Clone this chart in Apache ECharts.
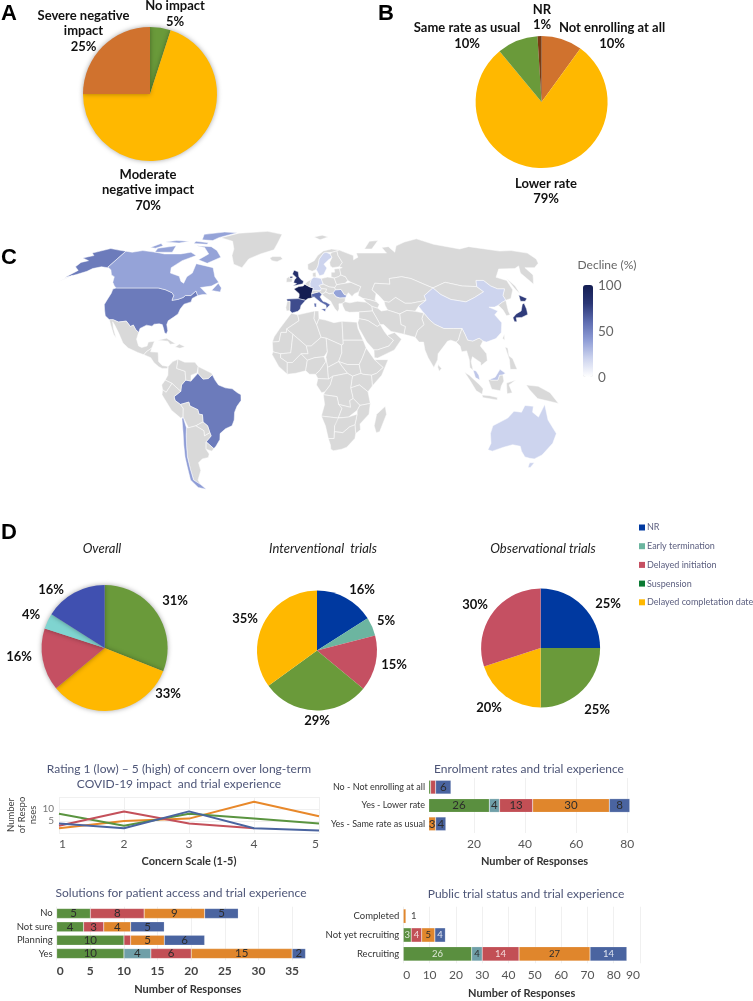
<!DOCTYPE html>
<html><head><meta charset="utf-8">
<script src="https://cdn.jsdelivr.net/npm/echarts@6/dist/echarts.min.js"></script>
<style>html,body{margin:0;padding:0;background:#fff}#c{width:753px;height:1001px}</style>
</head><body><div id="c"></div>
<script>
// ---------- DATA ----------
const pieANames = ['No impact', 'Moderate\nnegative impact', 'Severe negative\nimpact'];
const pieAValues = [5, 70, 25];
const pieBNames = ['Not enrolling at all', 'Lower rate', 'Same rate as usual', 'NR'];
const pieBValues = [10, 79, 10, 1];

const overallNames = ['Suspension', 'Delayed completation date', 'Delayed initiation', 'Early termination', 'NR'];
const overallValues = [31, 33, 16, 4, 16];
const interventionalNames = ['NR', 'Early termination', 'Delayed initiation', 'Suspension', 'Delayed completation date'];
const interventionalValues = [16, 5, 15, 29, 35];
const observationalNames = ['NR', 'Suspension', 'Delayed completation date', 'Delayed initiation'];
const observationalValues = [25, 25, 20, 30];

const declineCountries = ['USA','Canada','Brazil','UK','France','Spain','Italy','Germany','Sweden','Romania','China','Japan','Australia','Chile','Malaysia'];
const declineValues = [54, 38, 54, 85, 100, 72, 62, 20, 20, 38, 20, 78, 20, 40, 25];

const concernTicks = ['1','2','3','4','5'];
const concernOrange = [2, 5, 6, 13, 7];
const concernGreen = [8, 3, 8, 6, 4];
const concernRed = [3, 9, 4, 2, null];
const concernBlue = [4, 2, 9, 2, 1];

const enrolCats = ['No - Not enrolling at all', 'Yes - Lower rate', 'Yes - Same rate as usual'];
const enrolSuspension = [3, 26, 2];
const enrolEarly = [0, 4, 0];
const enrolInitiation = [2, 13, 0];
const enrolCompletion = [0, 30, 3];
const enrolNR = [6, 8, 4];
const enrolTicks = [20, 40, 60, 80];

const solCats = ['No', 'Not sure', 'Planning', 'Yes'];
const solSuspension = [5, 4, 10, 10];
const solEarly = [0, 0, 0, 4];
const solInitiation = [8, 3, 1, 6];
const solCompletion = [9, 4, 5, 15];
const solNR = [5, 5, 6, 2];
const solTicks = [0, 5, 10, 15, 20, 25, 30, 35];

const pubCats = ['Completed', 'Not yet recruiting', 'Recruiting'];
const pubSuspension = [0, 3, 26];
const pubEarly = [0, 0, 4];
const pubInitiation = [0, 4, 14];
const pubCompletion = [1, 5, 27];
const pubNR = [0, 4, 14];

// Coarse base map outlines (lon, lat)
const landShapes = {
 USA:[[[-124.7,48.4],[-123,49],[-95,49],[-89.5,48],[-84.5,46.5],[-82.5,45],[-82.5,42.5],[-79,43],[-76,44],[-75,45],[-71.5,45],[-69.2,47.4],[-67,45],[-70,43.5],[-70,41.7],[-74,40.5],[-75.5,38],[-76,35.5],[-78,34],[-81,32],[-81.3,30],[-80,26.8],[-80.5,25.2],[-81.8,26],[-82.8,28],[-84,30],[-86,30.4],[-89,30.2],[-90,29.2],[-93.5,29.7],[-97,28],[-97.3,26],[-99.5,27.5],[-101.5,29.8],[-103,29],[-106.5,31.8],[-111,31.3],[-114.8,32.5],[-117.1,32.5],[-120.5,34.5],[-122.5,37.5],[-124.3,40.3],[-124.2,43],[-124,46.2]],
  [[-141,69.6],[-141,60.3],[-137,58.9],[-133,56],[-130,55],[-134,58],[-139,59.8],[-146,60.5],[-151,59.5],[-153,58],[-158,56.2],[-164,54.6],[-160,58.5],[-165,60.5],[-165,63],[-161,64],[-168,65.6],[-162,67],[-166,68.5],[-156.5,71.3],[-148,70.3]],
  [[-160,55.6],[-166,52.2],[-162,54.4]]],
 Canada:[[[-123,49],[-95,49],[-89.5,48],[-84.5,46.5],[-82.5,45],[-82.5,42.5],[-79,43],[-76,44],[-75,45],[-71.5,45],[-69.2,47.4],[-67,45],[-64,45.5],[-61,45.5],[-65,48],[-67,49.2],[-60,50],[-56,52],[-60,55],[-64,60],[-70,61],[-78,62.3],[-77,57],[-79.5,55],[-79.5,51.5],[-82,52.5],[-85,55.3],[-92.5,57],[-94.5,60],[-90,64],[-82,67],[-88,69],[-95,68],[-108,68],[-116,69],[-128,70],[-135,69],[-141,69.6],[-141,60.3],[-137,58.9],[-133,56],[-130,55],[-128,52],[-125,50]],
  [[-62,66],[-70,62.5],[-78,64.5],[-73,68],[-80,72],[-88,73],[-75,72.5],[-68,70]],
  [[-62,82.5],[-75,83],[-92,81],[-88,77],[-78,76.5],[-75,78.5]],
  [[-105,73],[-118,71.5],[-117,69],[-103,69]],
  [[-125,72],[-120,74.5],[-116,73],[-120,71.5]],
  [[-80,75],[-92,76],[-92,74.5],[-80,74]],
  [[-98,76],[-110,76.5],[-118,75.5],[-105,74.8]],
  [[-59,47.7],[-53,46.8],[-53,49],[-56,51.5]]],
 Greenland:[[[-73,78.5],[-60,82],[-33,83.6],[-18,81],[-20,75],[-22,70.5],[-32,68],[-40,65],[-43,60],[-50,62],[-54,67],[-55,71],[-60,76]]],
 Iceland:[[[-24,65.5],[-22,64],[-18,63.4],[-14,65],[-16,66.4],[-22,66.4]]],
 Mexico:[[[-117.1,32.5],[-114.8,32.5],[-111,31.3],[-106.5,31.8],[-103,29],[-101.5,29.8],[-99.5,27.5],[-97.3,26],[-97.8,22.5],[-96,19],[-94,18.2],[-91,19],[-90.5,21],[-87,21.5],[-88,18],[-91,16],[-92.2,14.5],[-96,15.7],[-102,18],[-105.5,20.5],[-109,25.5],[-112.5,29.5],[-114.7,31.5],[-113,28],[-110,23],[-112,25],[-115,29.5]]],
 CentralAmerica:[[[-92.2,14.5],[-91,16],[-88,18],[-88.5,16],[-84,15.8],[-83.3,11],[-81,9],[-77.5,8.5],[-78,7.5],[-81,7.5],[-83,8.3],[-86,10.5],[-88,13]]],
 Cuba:[[[-85,22],[-80,23],[-74.3,20.2],[-77.5,19.9],[-79,21.5]]],
 Hispaniola:[[[-74.3,18.5],[-72,20],[-68.5,18.6],[-71.5,17.8]]],
 Brazil:[[[-51.6,4.2],[-50,1.5],[-48,-1],[-44,-2.5],[-40,-3],[-37,-5],[-35,-6],[-35,-9],[-37.5,-12],[-39,-15],[-39.5,-19],[-41,-22],[-45,-23.5],[-48.5,-26],[-49,-29],[-52,-32.5],[-53.5,-33.7],[-57.5,-30.2],[-54,-27.2],[-54.5,-25.5],[-55.5,-22],[-58,-20],[-58,-16.3],[-60,-16],[-60.5,-13.7],[-65,-11.8],[-65.5,-9.8],[-70.5,-11],[-73.5,-9],[-74,-7],[-70,-4.3],[-69.5,-1],[-67,1.5],[-64,1],[-60,5],[-57,2],[-54,2.3]]],
 Colombia:[[[-77.5,8.5],[-75,11],[-72,12.2],[-72.5,7.5],[-67.5,6],[-67,1.5],[-69.5,-1],[-70,-4.3],[-75,-0.2],[-79,1.5],[-77.5,4]]],
 Venezuela:[[[-72,12.2],[-68,10.7],[-62,10.7],[-60,8.5],[-60.5,5.2],[-64,4],[-64,1],[-67,1.5],[-67.5,6],[-72.5,7.5]]],
 Guianas:[[[-60,8.5],[-52,5],[-51.6,4.2],[-54,2.3],[-57,2],[-60,5]]],
 Ecuador:[[[-79,1.5],[-75,-0.2],[-78.5,-4.8],[-80.5,-3.5],[-81,-1]]],
 Peru:[[[-75,-0.2],[-70,-4.3],[-74,-7],[-73.5,-9],[-70.5,-11],[-69,-13],[-69.5,-17.5],[-71,-18],[-76,-14],[-81,-6],[-80.5,-3.5],[-78.5,-4.8]]],
 Bolivia:[[[-69,-13],[-70.5,-11],[-65.5,-9.8],[-65,-11.8],[-60.5,-13.7],[-60,-16],[-58,-16.3],[-58,-20],[-62.5,-22],[-67,-23],[-69.5,-17.5]]],
 Paraguay:[[[-62.5,-22],[-58,-20],[-55.5,-22],[-54.5,-25.5],[-58,-27.2],[-58,-24.5]]],
 Argentina:[[[-67,-23],[-62.5,-22],[-58,-24.5],[-58,-27.2],[-54.5,-25.5],[-54,-27.2],[-57.5,-30.2],[-58.3,-34],[-57,-36.5],[-58,-38.3],[-62,-39],[-65,-41],[-65,-45],[-69,-50],[-68.5,-52.5],[-72,-50],[-71.5,-44],[-71,-38],[-70,-33],[-69,-27],[-68.2,-23]]],
 Chile:[[[-69.5,-17.5],[-68.2,-23],[-69,-27],[-70,-33],[-71,-38],[-71.5,-44],[-72,-50],[-68.5,-52.5],[-66,-55],[-71,-54],[-74,-50],[-73,-43],[-72.5,-38],[-71.5,-32],[-70.5,-25],[-70.3,-18.5]]],
 Uruguay:[[[-57.5,-30.2],[-53.5,-33.7],[-55,-35],[-58.3,-34]]],
 UK:[[[-5.5,50],[1.3,51.2],[1.7,52.7],[0,53.5],[-1.5,55],[-2,57.7],[-5,58.6],[-6,56.5],[-3.2,54.5],[-4.5,53.3],[-5,51.7],[-3,51.3]],[[-8,54.2],[-5.6,54.4],[-6.2,55.2],[-7.5,55.1]]],
 Ireland:[[[-10,52],[-6.2,52.2],[-6,54],[-8,54.2],[-8,55.3],[-10,54]]],
 France:[[[-1.8,43.4],[3,42.5],[4.5,43.4],[7.5,43.8],[7,46],[8.2,49],[6,49.5],[2.5,51],[1.5,50],[-1.5,49.7],[-4.7,48.5],[-1.2,46],[-1.2,44.5]]],
 Spain:[[[-9.2,43.2],[-1.8,43.4],[3,42.5],[0,39.8],[-0.5,38],[-2,36.8],[-5.5,36],[-7,37.2],[-7,42],[-8.8,42]]],
 Portugal:[[[-8.8,42],[-7,42],[-7,37.2],[-9,37],[-9.5,38.8]]],
 Italy:[[[7,44],[7,46],[12,47],[13.7,45.7],[12.3,44.3],[14,42],[16,41.5],[18.5,40.2],[16.8,39],[16,38],[15.7,40],[12.5,41.5],[10.3,43],[8.5,44.3]],[[12.5,38],[15.6,38.2],[15,36.7]],[[8.2,41],[9.7,41],[9.6,39],[8.5,39]]],
 Germany:[[[6,49.5],[6,51.5],[7,53.5],[9,54.8],[14,54],[15,51],[12.2,50.3],[13.5,48.7],[13,47.5],[7.7,47.6],[8.2,49]]],
 Benelux:[[[2.5,51],[6,49.5],[6,51.5],[7,53.5],[4.5,52.5]]],
 Denmark:[[[8.2,55],[10.5,54.9],[10.5,57.5],[8.2,57]]],
 Alps:[[[7,46],[7.7,47.6],[13,47.5],[13.5,48.7],[17,48.5],[16.2,46.8],[13.7,45.7],[12,47]]],
 Poland:[[[14,54],[18.5,54.8],[23,54.3],[24,50.7],[22.5,49.2],[19,49.5],[15,51]]],
 Czechia:[[[12.2,50.3],[15,51],[19,49.5],[22.5,49.2],[22.8,48],[21,46.3],[18.5,45.9],[16.2,46.8],[17,48.5],[13.5,48.7]]],
 Romania:[[[22.8,48],[26.5,48.2],[28.2,45.5],[29.7,45.2],[28.6,43.8],[25,43.7],[22.7,44.3],[21,46.3]]],
 Balkans:[[[13.7,45.7],[16.2,46.8],[18.5,45.9],[21,46.3],[22.7,44.3],[25,43.7],[28.6,43.8],[28,41.8],[26,40.8],[24,40.7],[23.8,38],[22.8,36.6],[21.3,38],[19.5,41],[19,42],[15,44.5]]],
 Norway:[[[5,59],[8,58],[11,59],[12.5,61],[14,65],[18,68.5],[25,69],[29,69.8],[31,70.3],[25,71],[18,69.8],[13,67],[10,64],[5,62]]],
 Sweden:[[[11,59],[13,55.5],[16,56.2],[18.8,59.8],[17,62],[21,64.5],[24,66],[23,68],[20,69],[18,68.5],[14,65],[12.5,61]]],
 Finland:[[[24,66],[21.5,63],[21.5,61],[23,60],[28,60.5],[31,63],[29,67],[29,69.8],[25,69],[23,68]]],
 Baltics:[[[23,54.3],[21,55],[21.5,57.5],[24,57.5],[24,59.3],[28,59.5],[28,56],[26,55]]],
 Belarus:[[[23,54.3],[26,55],[28,56],[31,55],[32,53],[30,51.5],[24,50.7]]],
 Ukraine:[[[24,50.7],[30,51.5],[34,52],[40,49.7],[38,47],[35,46],[33,44.5],[31,46.5],[29.7,45.2],[28.2,45.5],[26.5,48.2],[22.8,48],[22.5,49.2]]],
 Russia:[[[28,59.5],[30,60],[28,60.5],[31,63],[29,67],[29,69.8],[31,70.3],[41,67],[40,64.5],[44,66],[44,68.5],[55,68.5],[68,68.5],[67,72],[73,72.5],[75,69],[80,73],[90,75.5],[104,77.7],[113,74],[130,71],[140,72.5],[160,69.7],[170,70],[180,68.5],[180,65],[177,62.5],[170,60],[163,60],[163,56],[157,51],[155.5,57],[160,61],[155,59.5],[143,59.3],[135.5,54.7],[141,53],[140,48],[135,43.5],[131,42.5],[131,45],[135,48.5],[130.5,48.5],[127,50],[125,53],[120,53],[117.5,49.7],[108,50],[98,52],[87.8,49],[83,51],[76,54],[70,55],[61,54],[60,51],[50,51.5],[47,48],[49,46],[47.5,43],[48,41.8],[44,42.8],[40,43.5],[37,45],[38,47],[40,49.7],[34,52],[32,53],[31,55],[28,56]],
  [[142,54],[143.5,50],[143,46],[142,48]],[[52,71],[58,71],[68,76.5],[60,76]]],
 Svalbard:[[[12,79],[20,80.3],[25,79],[17,77]]],
 Kazakhstan:[[[47,48],[50,51.5],[60,51],[61,54],[70,55],[76,54],[83,51],[87.8,49],[80,45],[80,42.5],[70,41],[66,41],[61,44],[56,41.5],[53,42],[50.5,45]]],
 CentralAsia:[[[53,42],[56,41.5],[61,44],[66,41],[70,41],[80,42.5],[74,39.5],[71,36.8],[66,37.3],[61,35.5],[54,37.5],[53,40]]],
 Mongolia:[[[87.8,49],[98,52],[108,50],[117.5,49.7],[120,47],[112,44],[105,41.7],[96,43],[91,45.5]]],
 China:[[[74,39.5],[80,42.5],[80,45],[87.8,49],[91,45.5],[96,43],[105,41.7],[112,44],[120,47],[117.5,49.7],[120,53],[125,53],[127,50],[130.5,48.5],[135,48.5],[131,45],[131,42.5],[128,41.5],[124.5,40],[121.5,39],[118,39],[122.5,37],[119.5,35],[122,31],[120,26],[116,22.8],[110,21],[108,21.6],[106,23],[102,21.5],[99,22],[98,25],[97,28],[92,28],[86,28],[81,30.2],[78.5,32.5],[76,36]]],
 Korea:[[[124.5,40],[128,41.5],[131,42.5],[129,37],[129,35],[126.5,34.5],[126,37.5]]],
 Japan:[[[130,31.5],[131.5,31.5],[132,33.5],[135.5,33.7],[140,35.2],[141,38],[141.5,41],[140,40.5],[137,37],[133,35.5],[130,33.5]],[[140,42],[141.5,45.3],[145.3,43.5],[143,42]]],
 Taiwan:[[[120,23],[121.5,25],[121,22]]],
 India:[[[68,23.5],[70,21],[72.7,21],[73,17],[74.5,13],[77.5,8],[80,12],[80.5,15],[85,19.5],[87,21.5],[89,22],[92,21],[93.5,22],[95,25],[97,28],[92,28],[86,28],[81,30.2],[78.5,32.5],[76,36],[74,33],[74.5,30],[70,27]]],
 Pakistan:[[[61,35.5],[66,37.3],[71,36.8],[76,36],[74,33],[74.5,30],[70,27],[68,23.5],[61.5,25],[63,29],[60.5,30]]],
 Iran:[[[44.5,39.5],[48,38.5],[50,37],[54,37.5],[61,35.5],[60.5,30],[63,29],[61.5,25],[57,26],[54,26.5],[50,30],[48,30],[46,34],[44.5,37]]],
 Caucasus:[[[40,43.5],[44,42.8],[48,41.8],[49.5,40.3],[48,38.5],[44.5,39.5],[41.5,41.5]]],
 Turkey:[[[26,40.8],[28,41.8],[31,41.2],[36,42],[41.5,41.5],[44.5,39.5],[44.5,37],[36,36.5],[30,36.3],[27.5,37],[26.5,39]]],
 Iraq:[[[36,36.5],[44.5,37],[46,34],[48,30],[46,29],[41,32],[39,32.5],[35.5,33]]],
 Saudi:[[[35.5,33],[39,32.5],[41,32],[46,29],[48,30],[50,26.5],[51.5,24.5],[55,22],[52,19],[45,17],[43,17],[39,21],[35,28],[34.5,31]]],
 Oman:[[[51.5,24.5],[56,26],[59.8,22.5],[55,17],[45,12.8],[43,13],[43,17],[45,17],[52,19],[55,22]]],
 IndoChina:[[[92,21],[93.5,22],[95,25],[97,28],[98,25],[99,22],[102,21.5],[106,23],[108,21.6],[106,19],[109,15],[109,11.5],[105,8.8],[105,10.5],[102,12.5],[100.5,13.5],[99.5,11],[100.3,6.5],[98.5,8],[98.5,12],[97.5,16.5],[94.5,16],[94,19]]],
 Borneo:[[[109,1.5],[109.6,1.8],[111,1.5],[114.5,1.5],[115.5,4],[117.5,4.2],[118,1],[116.5,-1.5],[116,-4],[111,-3.2],[110,-1]]],
 Malaysia:[[[100.3,6.5],[102,6.2],[103.5,4],[104,1.5],[101.5,2.8]],[[109.6,1.8],[111,1.5],[114.5,1.5],[115.5,4],[117.5,4.2],[119,5],[116,7],[113,3]]],
 Sumatra:[[[95.3,5.5],[98,4],[104,-1],[106,-3],[105.5,-5.8],[102,-4],[98.5,1]]],
 Java:[[[105.5,-6.2],[110,-6.5],[114.5,-7.5],[114.5,-8.7],[106,-7.5]]],
 Sulawesi:[[[119.5,0],[125,1.5],[121,-1],[123,-5],[120,-5.5]]],
 NewGuinea:[[[131,-1],[138,-1.7],[145,-5],[150.5,-10.5],[143,-9],[138,-8],[133,-3.5]]],
 Philippines:[[[120.5,18.5],[122,18],[122,14],[124,12.5],[126,7],[122,7],[122,12]]],
 SriLanka:[[[80,9.5],[82,7.5],[80.5,6],[79.8,8]]],
 Australia:[[[114,-22],[122,-18],[125,-14.5],[129.5,-15],[131,-11.5],[136,-12],[136,-15],[140,-17.5],[142.5,-11],[146,-19],[153,-26],[153,-31],[150,-37],[146.5,-39],[143.5,-38.7],[140,-38],[136,-35],[134,-32.5],[129,-31.7],[124,-33],[118,-35],[115,-34.3],[115.5,-31],[113.5,-26]],[[145,-41],[148,-41],[147.5,-43.5],[146,-43.5]]],
 Morocco:[[[-6,35.8],[-2,35],[-1.2,32],[-8.7,27.7],[-8.7,26],[-12,26],[-13,21.3],[-17,21],[-16,23.7],[-13,27.7],[-9.8,31.5]]],
 Algeria:[[[-2,35],[8.5,37],[8,33],[9.5,30],[12,23.5],[6,19],[3.2,19],[-4.8,25],[-8.7,27.7],[-1.2,32]]],
 Tunisia:[[[8.5,37],[11,37],[11,33],[9.5,30],[8,33]]],
 Libya:[[[11,33],[15,32.3],[20,31],[25,31.7],[25,20],[24,19.5],[15,23],[12,23.5],[9.5,30]]],
 Egypt:[[[25,31.7],[34,31.2],[34.3,28],[36.9,22],[25,22]]],
 Mauritania:[[[-17,21],[-13,21.3],[-12,26],[-8.7,26],[-8.7,27.7],[-4.8,25],[-6,15.5],[-12,15],[-16.5,16]]],
 Mali:[[[-4.8,25],[3.2,19],[4.2,15],[0,15],[-5,10.5],[-8,10.5],[-12,13],[-12,15],[-6,15.5]]],
 Niger:[[[3.2,19],[6,19],[12,23.5],[15,23],[15.5,16],[13.5,13.5],[8,13],[3.7,11.7],[0,15],[4.2,15]]],
 Chad:[[[15,23],[24,19.5],[24,15.5],[22,11],[15.5,8],[14.5,13],[15.5,16]]],
 Sudan:[[[24,19.5],[25,20],[25,22],[36.9,22],[38.5,18],[36,13],[34,9.5],[27,9.5],[22,11],[24,15.5]]],
 SouthSudan:[[[27,9.5],[34,9.5],[35,5],[30,3.5],[27,5],[24,8.5],[22,11]]],
 Senegal:[[[-16.5,16],[-12,15],[-12,13],[-8,10.5],[-8,4.5],[-13,8.5],[-17,14.7]]],
 Ghana:[[[-8,10.5],[-5,10.5],[0,15],[3.7,11.7],[2.7,6.3],[-3,5],[-8,4.5]]],
 Nigeria:[[[3.7,11.7],[8,13],[13.5,13.5],[14.5,11],[11,6.5],[8.5,4.5],[5,4.5],[2.7,6.3]]],
 Cameroon:[[[14.5,13],[15.5,8],[16,2],[9.8,2.3],[8.5,4.5],[11,6.5],[14.5,11]]],
 CAR:[[[15.5,8],[22,11],[24,8.5],[27,5],[18.5,3.5],[16,2]]],
 Gabon:[[[9.8,2.3],[16,2],[18.5,3.5],[17,-1],[14,-4.5],[12,-5],[9,-1]]],
 DRC:[[[18.5,3.5],[27,5],[30,3.5],[29,-2.5],[30.5,-8],[28.5,-9],[29,-12.5],[22,-11],[21,-7],[13,-6],[14,-4.5],[17,-1]]],
 Ethiopia:[[[36,13],[38.5,18],[43,12],[48,8],[44,5],[41,4],[36,4.5],[35,5],[34,9.5]]],
 Somalia:[[[43,12],[51,12],[47,4],[41.5,-1.5],[41,4],[44,5],[48,8]]],
 Kenya:[[[30,3.5],[35,5],[36,4.5],[41,4],[41.5,-1.5],[39,-4.5],[34,-1],[29,-2.5]]],
 Tanzania:[[[29,-2.5],[34,-1],[39,-4.5],[40.5,-10.5],[34.5,-11.5],[30.5,-8]]],
 Angola:[[[13,-6],[21,-7],[22,-11],[24,-13],[22,-18],[12,-17],[13.8,-11]]],
 Zambia:[[[22,-11],[29,-12.5],[28.5,-9],[30.5,-8],[34.5,-11.5],[33,-14],[28,-17.5],[22,-18],[24,-13]]],
 Mozambique:[[[34.5,-11.5],[40.5,-10.5],[40,-16],[35,-21],[35.5,-24],[32.8,-26],[32,-21.5],[33,-16],[33,-14]]],
 Namibia:[[[12,-17],[22,-18],[25,-17.8],[20,-22],[20,-28.5],[16.5,-28.5],[14.5,-22]]],
 Botswana:[[[22,-18],[28,-17.5],[33,-16],[32,-21.5],[29,-22.5],[25,-25.5],[20,-25],[20,-22]]],
 SouthAfrica:[[[16.5,-28.5],[20,-28.5],[20,-25],[25,-25.5],[29,-22.5],[32,-21.5],[32.8,-26],[32.5,-28.5],[28,-33],[25,-34],[20,-34.8],[18.3,-34],[18,-32]]],
 Madagascar:[[[49.3,-12],[50.3,-16],[47,-25],[45,-25.5],[43.5,-22],[44.5,-16]]]
};
// Robinson projection table, every 5 degrees of latitude
const robinsonLen = [1,.9986,.9954,.99,.9822,.973,.96,.9427,.9216,.8962,.8679,.835,.7986,.7597,.7186,.6732,.6213,.5722,.5322];
const robinsonDrop = [0,.062,.124,.186,.248,.31,.372,.434,.4958,.5571,.6176,.6769,.7346,.7903,.8435,.8936,.9394,.9761,1];

// ---------- STYLE ----------
const GREEN='#6a9a3a', GOLD='#ffb800', ORANGE='#d0722e', BROWN='#7a3b12';
const RED='#c55062', NAVY='#0039a0', TEAL='#6cb5a0';
const B_GREEN='#5a8f3f', B_TEAL='#6f9fa8', B_RED='#c24f55', B_ORANGE='#e0862c', B_BLUE='#4a64a0';
const TITLE='#4d5577', TICK='#555', LABEL='Lato, "Open Sans", sans-serif';

function interp(t, a){ const i=Math.min(17,Math.floor(a/5)); const f=a/5-i; return t[i]+(t[i+1]-t[i])*f; }
function project(p){
  const a=Math.abs(p[1]), s=p[1]<0?-1:1;
  return [301+1.72*p[0]*interp(robinsonLen,a), 383-157*s*interp(robinsonDrop,a)];
}
const features=Object.keys(landShapes).map(n=>({type:'Feature',properties:{name:n},geometry:{type:'MultiPolygon',coordinates:landShapes[n].map(r=>[r.concat([r[0]])])}}));
echarts.registerMap('world',{type:'FeatureCollection',features});
let bx0=1e9,bx1=-1e9,by0=1e9,by1=-1e9;
Object.values(landShapes).forEach(m=>m.forEach(r=>r.forEach(p=>{const q=project(p);bx0=Math.min(bx0,q[0]);bx1=Math.max(bx1,q[0]);by0=Math.min(by0,q[1]);by1=Math.max(by1,q[1]);})));

function pieSeries(names,vals,colors,c,r,pos,fmt,fs,shadow){
  return {type:'pie',center:c,radius:r,startAngle:90,clockwise:true,silent:true,animation:false,avoidLabelOverlap:false,
    data:names.map((n,i)=>({name:n,value:vals[i],itemStyle:{color:colors[i]}})),
    itemStyle:shadow?{shadowBlur:5,shadowColor:'rgba(0,0,0,.35)'}:{},
    label:{show:true,position:'outside',width:130,overflow:'none',formatter:fmt,color:'#111',fontFamily:LABEL,fontWeight:'bold',fontSize:fs,lineHeight:15.5,align:'center'},
    labelLine:{show:false},
    labelLayout:(p)=>{const q=pos[p.dataIndex];return {x:q[0],y:q[1],align:'center',verticalAlign:'middle'};}
  };
}
function barSet(gi,cats,sets,opts){
  return sets.map((s)=>({type:'bar',name:s.n,stack:'s'+gi,xAxisIndex:gi,yAxisIndex:gi,barWidth:opts.bw,animation:false,silent:true,
    itemStyle:{color:s.c,borderColor:'rgba(255,255,255,.35)',borderWidth:0.5},
    data:s.d.map(v=>v===0?null:v),
    label:{show:true,position:'inside',color:s.lc||'#2c2c2c',fontSize:opts.fs,fontFamily:LABEL,
      formatter:p=>p.value<(s.min||0)?'':p.value}}));
}
const xName=(t)=>({name:t,nameLocation:'middle',nameTextStyle:{fontFamily:LABEL,fontWeight:'bold',fontSize:11,color:'#333'}});
const gridline={show:true,lineStyle:{color:'#f0f0f0',width:1}};

const legendNames=['NR','Early termination','Delayed initiation','Suspension','Delayed completation date'];
const legendColors=[NAVY,TEAL,RED,'#0b7a33',GOLD];
const titleT=(text,x,y,extra)=>({text,left:x,top:y,padding:0,textAlign:'center',textStyle:Object.assign({fontFamily:LABEL,fontWeight:'normal',fontSize:12,color:TITLE,lineHeight:15},extra||{})});
const letter=(t,x,y)=>({text:t,left:x,top:y,padding:0,textStyle:{fontFamily:'"Liberation Sans"',fontWeight:'bold',fontSize:22,color:'#000'}});

const pubSets=[{n:'g',c:B_GREEN,d:pubSuspension,lc:'#dfe8d8'},{n:'t',c:B_TEAL,d:pubEarly},{n:'r',c:B_RED,d:pubInitiation,lc:'#f3dcdc'},{n:'o',c:B_ORANGE,d:pubCompletion},{n:'b',c:B_BLUE,d:pubNR,lc:'#dfe4f0'}];
const pubSeries=barSet(3,pubCats,pubSets,{bw:14.3,fs:9.5});
pubSeries[3].data=pubCompletion.map((v,i)=>i===0?{value:v,label:{position:'right',color:'#444'}}:v);

const option={
 backgroundColor:'#fff',animation:false,
 title:[
  letter('A',1,3),letter('B',378,3),letter('C',1,247),letter('D',1,522),
  titleT('Overall',102,541,{fontStyle:'italic',fontSize:13,color:'#222'}),
  titleT('Interventional  trials',323,541,{fontStyle:'italic',fontSize:13,color:'#222'}),
  titleT('Observational trials',543,541,{fontStyle:'italic',fontSize:13,color:'#222'}),
  titleT('Decline (%)',607,258,{fontSize:12,color:'#666'}),
  titleT('Rating 1 (low) – 5 (high) of concern over long-term\nCOVID-19 impact  and trial experience',179,762),
  titleT('Enrolment rates and trial experience',529,762),
  titleT('Solutions for patient access and trial experience',181,886),
  titleT('Public trial status and trial experience',526,887)
 ],
 legend:{orient:'vertical',left:639,top:523,padding:0,itemWidth:6,itemHeight:6,itemGap:9.7,selectedMode:false,icon:'rect',
   data:legendNames.map((n,i)=>({name:n,itemStyle:{color:legendColors[i]}})),
   textStyle:{fontFamily:LABEL,fontSize:9,color:'#5d6080',padding:[0,0,0,-3]}},
 geo:{map:'world',roam:false,silent:true,left:bx0,top:by0,width:bx1-bx0,height:by1-by0,
   projection:{project,unproject:(q)=>q},
   itemStyle:{areaColor:'#d9d9d9',borderColor:'#fff',borderWidth:0.5},emphasis:{disabled:true}},
 visualMap:{type:'continuous',min:0,max:100,left:568,top:270,itemWidth:10,itemHeight:92,calculable:false,text:null,showLabel:false,seriesIndex:0,
   inRange:{color:['#ffffff','#cdd4ee','#8f9dd6','#5d6cb0','#2a3675','#141d52']},textStyle:{color:'#666'}},
 graphic:[
  {type:'text',left:598,top:279,style:{text:'100',font:'13.5px Lato',fill:'#666'}},
  {type:'text',left:598,top:325,style:{text:'50',font:'13.5px Lato',fill:'#666'}},
  {type:'text',left:598,top:371,style:{text:'0',font:'13.5px Lato',fill:'#666'}}
 ],
 grid:[
  {left:59,width:260,top:797,height:36},
  {left:429,width:211,top:778,height:55},
  {left:56.7,width:262.3,top:906.7,height:53.6},
  {left:403.3,width:236.7,top:906.7,height:56.6}
 ],
 xAxis:[
  Object.assign({gridIndex:0,type:'category',data:concernTicks,boundaryGap:false,axisLine:{show:false},axisTick:{show:false},splitLine:gridline,
    axisLabel:{fontFamily:LABEL,fontSize:12,color:TICK,margin:5,alignMinLabel:'left',alignMaxLabel:'right'},nameGap:23},xName('Concern Scale (1-5)')),
  Object.assign({gridIndex:1,type:'value',min:2.4,max:85,axisLine:{show:false},axisTick:{show:false,customValues:enrolTicks},splitLine:gridline,
    axisLabel:{customValues:enrolTicks,fontFamily:LABEL,fontSize:12,color:TICK,margin:5},nameGap:23},xName('Number of Responses')),
  Object.assign({gridIndex:2,type:'value',min:0,max:39,axisLine:{show:false},axisTick:{show:false,customValues:solTicks},splitLine:gridline,
    axisLabel:{customValues:solTicks,fontFamily:LABEL,fontSize:12,fontWeight:'bold',color:'#444',margin:5,alignMinLabel:'left'},nameGap:24},xName('Number of Responses')),
  Object.assign({gridIndex:3,type:'value',min:0,max:90,interval:10,axisLine:{show:false},axisTick:{show:false},splitLine:gridline,
    axisLabel:{fontFamily:LABEL,fontSize:12,color:TICK,margin:6,alignMinLabel:'left',alignMaxLabel:'right'},nameGap:25},xName('Number of Responses'))
 ],
 yAxis:[
  {gridIndex:0,type:'value',min:0,max:15,interval:5,axisLine:{show:false},axisTick:{show:false},splitLine:gridline,
   axisLabel:{fontFamily:LABEL,fontSize:10,color:'#777',margin:5,formatter:v=>(v===5||v===10)?v:''},
   name:'Number\nof Respo\nnses',nameLocation:'middle',nameRotate:90,nameGap:16,nameTextStyle:{fontFamily:LABEL,fontSize:9.5,color:'#444',lineHeight:11}},
  {gridIndex:1,type:'category',inverse:true,data:enrolCats,axisLine:{show:false},axisTick:{show:false},axisLabel:{fontFamily:LABEL,fontSize:9,color:'#333',margin:4}},
  {gridIndex:2,type:'category',inverse:true,data:solCats,axisLine:{show:false},axisTick:{show:false},axisLabel:{fontFamily:LABEL,fontSize:9.5,color:'#333',margin:4}},
  {gridIndex:3,type:'category',inverse:true,data:pubCats,axisLine:{show:false},axisTick:{show:false},axisLabel:{fontFamily:LABEL,fontSize:9.5,color:'#333',margin:4}}
 ],
 series:[
  {type:'map',geoIndex:0,silent:true,data:declineCountries.map((n,i)=>({name:n,value:declineValues[i]}))},
  pieSeries(pieANames,pieAValues,[GREEN,GOLD,ORANGE],[150,94],67,[[175,14],[148,190],[83.5,31]],p=>p.name+'\n'+p.value+'%',13,true),
  pieSeries(pieBNames,pieBValues,[ORANGE,GOLD,GREEN,BROWN],[541.6,102],66,[[612,36],[546,191.5],[467,36],[542,17.5]],p=>p.name+'\n'+p.value+'%',13,false),
  pieSeries(overallNames,overallValues,[GREEN,GOLD,RED,'#7fd4d0','#4050b0'],[104.6,648],63,[[175,601],[168,694],[19,657],[31,615],[51,590]],p=>p.value+'%',13,true),
  pieSeries(interventionalNames,interventionalValues,[NAVY,TEAL,RED,GREEN,GOLD],[317,650.5],60,[[362,590],[386,621],[394,665],[317,721],[245,619]],p=>p.value+'%',13,false),
  pieSeries(observationalNames,observationalValues,[NAVY,GREEN,GOLD,RED],[540.6,648],59.5,[[608,604],[597,710],[489,708],[475,605]],p=>p.value+'%',13,false),
  ...[['#e8882a',concernOrange],['#5a9440',concernGreen],['#c4505a',concernRed],['#4a64a0',concernBlue]].map(([c,d])=>({type:'line',xAxisIndex:0,yAxisIndex:0,data:d,showSymbol:false,silent:true,animation:false,lineStyle:{color:c,width:2},itemStyle:{color:c}})),
  ...barSet(1,enrolCats,[{n:'g',c:B_GREEN,d:enrolSuspension,min:5},{n:'t',c:B_TEAL,d:enrolEarly},{n:'r',c:B_RED,d:enrolInitiation,min:5},{n:'o',c:B_ORANGE,d:enrolCompletion},{n:'b',c:B_BLUE,d:enrolNR}],{bw:13.7,fs:11.5}),
  ...barSet(2,solCats,[{n:'g',c:B_GREEN,d:solSuspension},{n:'t',c:B_TEAL,d:solEarly},{n:'r',c:B_RED,d:solInitiation,min:2},{n:'o',c:B_ORANGE,d:solCompletion},{n:'b',c:B_BLUE,d:solNR}],{bw:10,fs:11.5}),
  ...pubSeries
 ]
};
const chart=echarts.init(document.getElementById('c'),null,{renderer:'canvas'});
chart.setOption(option);
</script></body></html>
